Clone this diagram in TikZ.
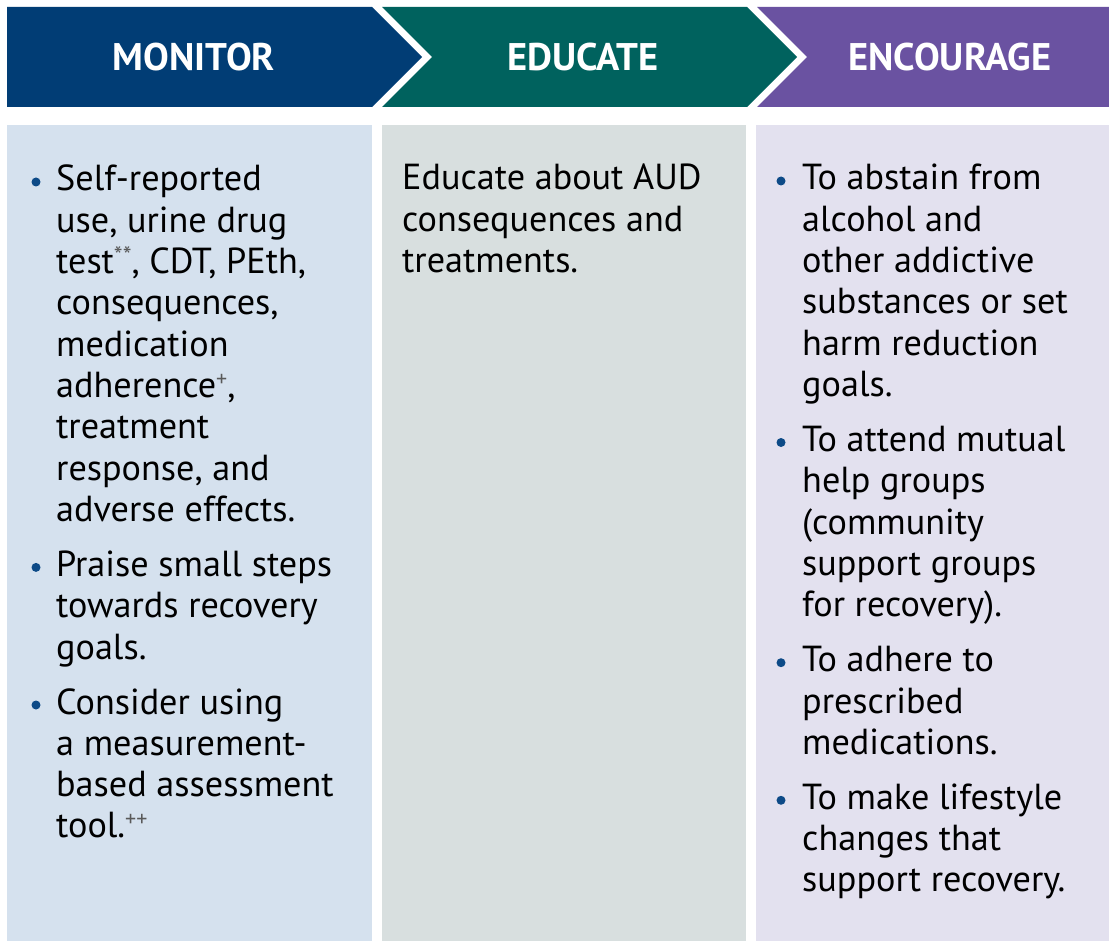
\documentclass[tikz,border=0pt]{standalone}
\usepackage{fontspec}
\setmainfont{PT Sans}
\definecolor{monblue}{HTML}{013D75}
\definecolor{eduteal}{HTML}{00625E}
\definecolor{encpurple}{HTML}{6A52A1}
\definecolor{monbg}{HTML}{D5E1EE}
\definecolor{edubg}{HTML}{D8DFDF}
\definecolor{encbg}{HTML}{E3E1EF}
\definecolor{bulletblue}{HTML}{0D4A87}
\newcommand{\starmark}{\raisebox{9pt}{\fontsize{25}{25}\selectfont\color{black!65}**}}
\newcommand{\plusmark}[1]{\raisebox{11pt}{\fontsize{22}{22}\selectfont\color{black!65}#1}}
\tikzset{
  headtext/.style={font=\fontsize{38.5}{42}\selectfont\bfseries, text=white, inner sep=0pt},
  bodytext/.style={anchor=base west, inner sep=0pt, font=\fontsize{36.2}{41.3}\selectfont, text=black},
  bulletdot/.style={circle, fill=bulletblue, inner sep=0pt, minimum size=9pt},
}
\newcommand{\itemtext}[1]{\parbox[t]{340pt}{\noindent\raggedright #1}}
\begin{document}
\begin{tikzpicture}[x=1pt,y=-1pt]
\useasboundingbox (0,0) rectangle (1109,941);
\fill[white] (0,0) rectangle (1109,941);
% headers
\fill[monblue] (7,7) -- (372,7) -- (422,57) -- (372,107) -- (7,107) -- cycle;
\fill[eduteal] (382,7) -- (747,7) -- (797,57) -- (747,107) -- (382,107) -- (432,57) -- cycle;
\fill[encpurple] (757,7) -- (1109,7) -- (1109,107) -- (757,107) -- (807,57) -- cycle;
\node[headtext] (monhead) at (194,57) {MONITOR};
\node[headtext] (eduhead) at (583,57) {EDUCATE};
\node[headtext] (enchead) at (950,57) {ENCOURAGE};
% panels
\fill[monbg] (7,125) rectangle (372,941);
\fill[edubg] (382,125) rectangle (746,941);
\fill[encbg] (756,125) rectangle (1109,941);
% monitor
\node[bulletdot] (mb1) at (36,182) {};
\node[bodytext] (m1) at (56,191) {\itemtext{Self-reported\\use, urine drug\\test\starmark, CDT, PEth,\\consequences,\\medication\\adherence\plusmark{+},\\treatment\\response, and\\adverse effects.}};
\node[bulletdot] (mb2) at (36,567.4) {};
\node[bodytext] (m2) at (56,576.4) {\itemtext{Praise small steps\\towards recovery\\goals.}};
\node[bulletdot] (mb3) at (36,705) {};
\node[bodytext] (m3) at (56,714) {\itemtext{Consider using\\a measurement-\\based assessment\\tool.\plusmark{++}}};
% educate
\node[bodytext] (e1) at (402,190) {\itemtext{Educate about AUD\\consequences and\\treatments.}};
% encourage
\node[bulletdot] (cb1) at (781,181) {};
\node[bodytext] (c1) at (802,190) {\itemtext{To abstain from\\alcohol and\\other addictive\\substances or set\\harm reduction\\goals.}};
\node[bulletdot] (cb2) at (781,442.5) {};
\node[bodytext] (c2) at (802,451.5) {\itemtext{To attend mutual\\help groups\\(community\\support groups\\for recovery).}};
\node[bulletdot] (cb3) at (781,662.7) {};
\node[bodytext] (c3) at (802,671.7) {\itemtext{To adhere to\\prescribed\\medications.}};
\node[bulletdot] (cb4) at (781,800.3) {};
\node[bodytext] (c4) at (802,809.3) {\itemtext{To make lifestyle\\changes that\\support recovery.}};
\end{tikzpicture}
\end{document}
